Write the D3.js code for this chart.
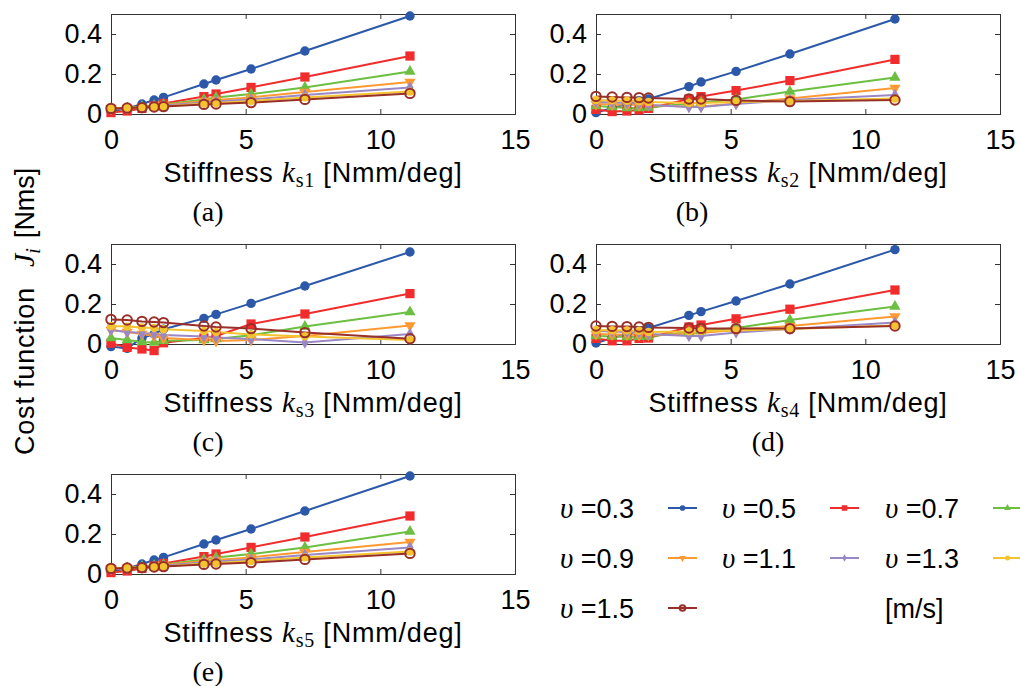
<!DOCTYPE html>
<html>
<head>
<meta charset="utf-8">
<script src="https://cdn.jsdelivr.net/npm/d3@7"></script>
<style>
  body { margin: 0; background: #fff; }
  text { font-family: "Liberation Sans", Arial, sans-serif; fill: #000; }
  .serif { font-family: "Liberation Serif", "Times New Roman", serif; }
</style>
</head>
<body>
<div id="chart"></div>
<script>
// stiffness values (x) shared by all panels
const stiffness = [0, 0.6, 1.15, 1.6, 1.95, 3.45, 3.9, 5.2, 7.2, 11.1];
const speeds = ['0.3', '0.5', '0.7', '0.9', '1.1', '1.3', '1.5'];
const colors = ['#2b58a8', '#f02c2c', '#6cbf40', '#ff9a33', '#9a88c6', '#f4c430', '#983029'];
const xTicks = [0, 5, 10, 15];
const yTicks = [0, 0.2, 0.4];
const panelLabels = ['(a)', '(b)', '(c)', '(d)', '(e)'];
const subs = ['s1', 's2', 's3', 's4', 's5'];

// cost function values, one row per speed
const panelA = [
  [0.012, 0.028, 0.05, 0.07, 0.083, 0.15, 0.17, 0.225, 0.315, 0.49],
  [0.007, 0.015, 0.028, 0.04, 0.053, 0.087, 0.10, 0.133, 0.185, 0.29],
  [0.025, 0.03, 0.037, 0.043, 0.048, 0.073, 0.082, 0.10, 0.133, 0.213],
  [0.028, 0.03, 0.034, 0.04, 0.045, 0.065, 0.07, 0.083, 0.11, 0.16],
  [0.025, 0.028, 0.032, 0.037, 0.042, 0.058, 0.062, 0.073, 0.095, 0.133],
  [0.03, 0.03, 0.032, 0.035, 0.038, 0.052, 0.055, 0.065, 0.083, 0.112],
  [0.028, 0.03, 0.032, 0.035, 0.037, 0.048, 0.05, 0.057, 0.073, 0.103]
];
const panelB = [
  [0.007, 0.03, 0.05, 0.065, 0.075, 0.137, 0.16, 0.213, 0.30, 0.475],
  [0.023, 0.012, 0.015, 0.02, 0.028, 0.075, 0.087, 0.117, 0.167, 0.273],
  [0.04, 0.035, 0.03, 0.03, 0.032, 0.053, 0.057, 0.073, 0.112, 0.182],
  [0.05, 0.048, 0.046, 0.045, 0.044, 0.037, 0.038, 0.053, 0.078, 0.13],
  [0.06, 0.057, 0.055, 0.052, 0.045, 0.035, 0.035, 0.05, 0.07, 0.095],
  [0.07, 0.068, 0.066, 0.064, 0.06, 0.055, 0.055, 0.06, 0.065, 0.077],
  [0.088, 0.085, 0.083, 0.082, 0.08, 0.075, 0.075, 0.068, 0.062, 0.07]
];
const panelC = [
  [-0.013, -0.022, 0.03, 0.05, 0.074, 0.128, 0.148, 0.203, 0.29, 0.46],
  [0.004, -0.017, -0.025, -0.033, 0.006, 0.03, 0.04, 0.10, 0.15, 0.252],
  [0.03, 0.02, 0.01, 0.008, 0.016, 0.02, 0.025, 0.044, 0.087, 0.16],
  [0.07, 0.06, 0.05, 0.04, 0.03, 0.02, 0.015, 0.02, 0.04, 0.093],
  [0.07, 0.06, 0.055, 0.05, 0.045, 0.038, 0.033, 0.025, 0.008, 0.05],
  [0.09, 0.087, 0.083, 0.08, 0.074, 0.065, 0.06, 0.048, 0.038, 0.02],
  [0.123, 0.12, 0.113, 0.11, 0.107, 0.09, 0.085, 0.077, 0.057, 0.026]
];
const panelD = [
  [0.005, 0.03, 0.05, 0.065, 0.08, 0.143, 0.162, 0.215, 0.30, 0.472],
  [0.028, 0.016, 0.016, 0.028, 0.03, 0.085, 0.095, 0.126, 0.174, 0.27],
  [0.04, 0.037, 0.035, 0.036, 0.038, 0.06, 0.065, 0.08, 0.12, 0.188],
  [0.05, 0.048, 0.046, 0.045, 0.045, 0.05, 0.055, 0.07, 0.09, 0.138],
  [0.065, 0.062, 0.06, 0.057, 0.05, 0.04, 0.04, 0.058, 0.075, 0.107],
  [0.07, 0.069, 0.068, 0.066, 0.06, 0.063, 0.065, 0.068, 0.075, 0.093],
  [0.09, 0.088, 0.087, 0.085, 0.083, 0.08, 0.078, 0.077, 0.077, 0.09]
];
const panelE = panelA.map(r => r.slice());
const panels = [panelA, panelB, panelC, panelD, panelE];

const W = 1020, H = 686;
const svg = d3.select('#chart').append('svg')
  .attr('width', W).attr('height', H);

// panel boxes: left, top
const boxes = [[111, 14], [596, 14], [111, 244], [596, 244], [111, 474]];
const pw = 404, ph = 100;
const labelX = [208, 692, 208, 768, 208];

const symbolFor = [
  d3.symbol().type(d3.symbolCircle).size(70),
  d3.symbol().type(d3.symbolSquare).size(85),
  d3.symbol().type(d3.symbolTriangle).size(55),
  d3.symbol().type(d3.symbolTriangle).size(55),
  d3.symbol().type(d3.symbolDiamond).size(45),
  d3.symbol().type(d3.symbolCircle).size(55),
  d3.symbol().type(d3.symbolCircle).size(70)
];

function drawMarker(g, i, x, y, scale) {
  const s = scale || 1;
  const p = g.append('path')
    .attr('d', symbolFor[i]())
    .attr('transform', 'translate(' + x + ',' + y + ')' + (i === 3 ? ' rotate(180)' : '') + ' scale(' + s + ')');
  if (i === 6) {
    p.attr('fill', 'none').attr('stroke', colors[i]).attr('stroke-width', 2 / s);
  } else {
    p.attr('fill', colors[i]);
  }
}

panels.forEach(function(data, pi) {
  const left = boxes[pi][0], top = boxes[pi][1];
  const g = svg.append('g').attr('transform', 'translate(' + left + ',' + top + ')');
  const x = d3.scaleLinear().domain([0, 15]).range([0, pw]);
  const y = d3.scaleLinear().domain([0, 0.5]).range([ph, 0]);

  // box with inward ticks
  g.append('g').attr('transform', 'translate(0,' + ph + ')')
    .call(d3.axisBottom(x).tickValues(xTicks).tickSize(-5).tickPadding(16).tickFormat(d3.format('d')))
    .call(a => a.selectAll('text').attr('font-size', 27).attr('dy', '0.71em'));
  g.append('g')
    .call(d3.axisTop(x).tickValues(xTicks).tickSize(-5).tickFormat(''));
  g.append('g')
    .call(d3.axisLeft(y).tickValues(yTicks).tickSize(-5).tickPadding(9).tickFormat(d => d === 0 ? '0' : d3.format('.1f')(d)))
    .call(a => a.selectAll('text').attr('font-size', 27));
  g.append('g').attr('transform', 'translate(' + pw + ',0)')
    .call(d3.axisRight(y).tickValues(yTicks).tickSize(-5).tickFormat(''));
  g.selectAll('.domain').attr('stroke', '#333');
  g.selectAll('.tick line').attr('stroke', '#333');
  g.selectAll('text').attr('font-family', '"Liberation Sans", Arial, sans-serif').attr('fill', '#000');

  const line = d3.line().x((d, i) => x(stiffness[i])).y(d => y(d));
  data.forEach(function(row, si) {
    g.append('path').datum(row)
      .attr('fill', 'none').attr('stroke', colors[si])
      .attr('stroke-width', 2).attr('d', line);
  });
  data.forEach(function(row, si) {
    row.forEach(function(v, k) { drawMarker(g, si, x(stiffness[k]), y(v)); });
  });

  // x title
  const t = g.append('text').attr('x', pw / 2).attr('y', ph + 68)
    .attr('text-anchor', 'middle').attr('font-size', 27).attr('letter-spacing', 0.8);
  t.append('tspan').text('Stiffness ');
  t.append('tspan').attr('class', 'serif').attr('font-style', 'italic').attr('font-size', 29).text('k');
  t.append('tspan').attr('class', 'serif').attr('font-size', 20).attr('dy', 5).text(subs[pi]);
  t.append('tspan').attr('dy', -5).text(' [Nmm/deg]');

  svg.append('text').attr('class', 'serif')
    .attr('x', labelX[pi]).attr('y', top + ph + 107)
    .attr('text-anchor', 'middle').attr('font-size', 28).text(panelLabels[pi]);
});

// y title
const yt = svg.append('text')
  .attr('transform', 'translate(34,455) rotate(-90)')
  .attr('text-anchor', 'start').attr('font-size', 27);
yt.append('tspan').attr('letter-spacing', 0.8).text('Cost function');
yt.append('tspan').attr('class', 'serif').attr('font-style', 'italic').attr('font-size', 30).attr('dx', 20).text('J');
yt.append('tspan').attr('class', 'serif').attr('font-style', 'italic').attr('font-size', 20).attr('dy', 6).text('i');
yt.append('tspan').attr('dy', -6).attr('dx', 10).text('[Nms]');

// legend
const legCols = [560, 722, 885];
const legRows = [508, 558, 608];
const leg = svg.append('g');
speeds.forEach(function(s, i) {
  const cx = legCols[i % 3], cy = legRows[Math.floor(i / 3)];
  const tx = leg.append('text').attr('x', cx).attr('y', cy + 10).attr('font-size', 27);
  tx.append('tspan').attr('class', 'serif').attr('font-style', 'italic').attr('font-size', 29).text('υ');
  tx.append('tspan').text(' =' + s);
  leg.append('line').attr('x1', cx + 108).attr('x2', cx + 137)
    .attr('y1', cy).attr('y2', cy).attr('stroke', colors[i]).attr('stroke-width', 2);
  drawMarker(leg, i, cx + 122.5, cy, 0.6);
});
leg.append('text').attr('x', legCols[2]).attr('y', legRows[2] + 10)
  .attr('font-size', 27).text('[m/s]');
</script>
</body>
</html>
